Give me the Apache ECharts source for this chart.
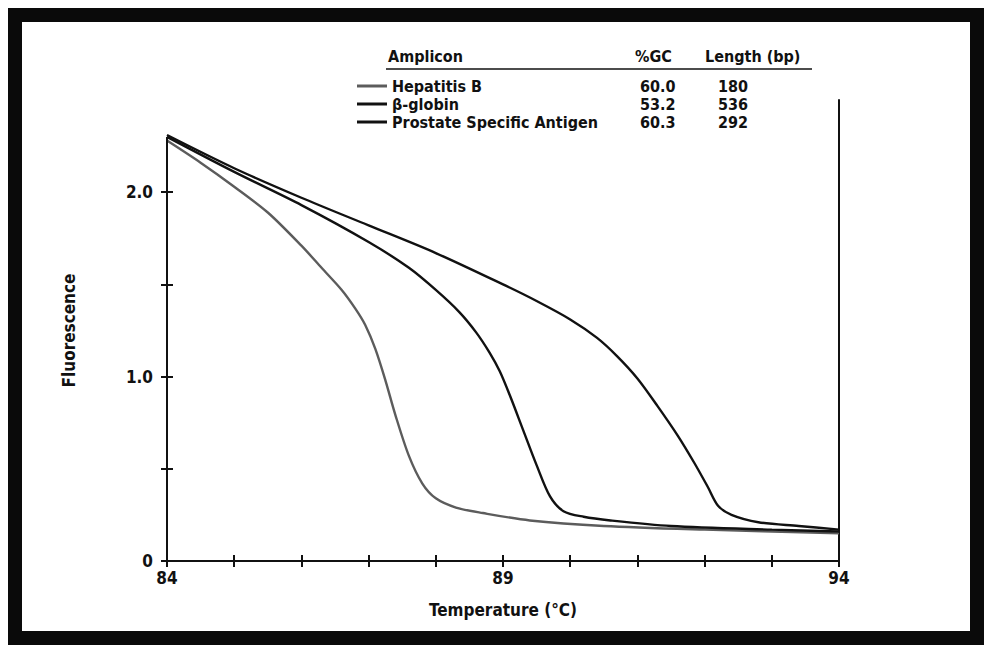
<!DOCTYPE html>
<html>
<head>
<meta charset="utf-8">
<script src="https://cdn.jsdelivr.net/npm/echarts@6/dist/echarts.min.js"></script>
<style>
  html, body { margin: 0; padding: 0; background: #ffffff; }
  #chart { width: 990px; height: 651px; }
</style>
</head>
<body>
<div id="chart"></div>
<script>
// ---- Data ----
const seriesNames = ['Hepatitis B', 'β-globin', 'Prostate Specific Antigen'];
const gcValues = ['60.0', '53.2', '60.3'];
const lengthValues = ['180', '536', '292'];

const hepTemps  = [84.0, 84.5, 85.0, 85.5, 86.0, 86.3, 86.6, 86.8, 86.95, 87.1, 87.25, 87.4, 87.6, 87.8, 88.0, 88.3, 88.7, 89.4, 90.5, 92.0, 94.0];
const hepValues = [2.28, 2.16, 2.03, 1.89, 1.71, 1.59, 1.47, 1.37, 1.28, 1.15, 0.98, 0.79, 0.57, 0.42, 0.34, 0.29, 0.26, 0.22, 0.19, 0.17, 0.15];

const gloTemps  = [84.0, 85.0, 86.0, 87.0, 87.6, 88.0, 88.35, 88.6, 88.8, 88.95, 89.1, 89.3, 89.5, 89.7, 89.9, 90.2, 90.6, 91.5, 93.0, 94.0];
const gloValues = [2.30, 2.11, 1.93, 1.73, 1.59, 1.47, 1.35, 1.24, 1.13, 1.03, 0.90, 0.71, 0.52, 0.35, 0.27, 0.24, 0.22, 0.19, 0.17, 0.16];

const psaTemps  = [84.0, 85.0, 86.0, 87.0, 88.0, 89.0, 89.5, 90.0, 90.4, 90.7, 91.0, 91.3, 91.6, 91.85, 92.05, 92.2, 92.4, 92.8, 93.4, 94.0];
const psaValues = [2.31, 2.13, 1.97, 1.82, 1.67, 1.50, 1.41, 1.31, 1.21, 1.11, 0.99, 0.84, 0.68, 0.53, 0.40, 0.30, 0.25, 0.21, 0.19, 0.17];

const xTickLabels = [84, 89, 94];
const yTickValues = [0, 0.5, 1.0, 1.5, 2.0];
const yTickLabels = [0, 1.0, 2.0];

const FONT = "'Liberation Sans Narrow', 'DejaVu Sans Condensed', 'Liberation Sans', sans-serif";
const INK = '#111111';
const colors = ['#5c5c5c', '#111111', '#111111'];

function pairs(t, v) { return t.map((x, i) => [x, v[i]]); }
const seriesData = [pairs(hepTemps, hepValues), pairs(gloTemps, gloValues), pairs(psaTemps, psaValues)];

const chart = echarts.init(document.getElementById('chart'), null, { renderer: 'svg' });

const series = seriesNames.map((name, i) => {
  const s = {
    name: name,
    type: 'line',
    data: seriesData[i],
    smooth: 0.3,
    showSymbol: false,
    symbol: 'none',
    lineStyle: { color: colors[i], width: 2.4 },
    itemStyle: { color: colors[i] },
    silent: true,
    z: 3
  };
  if (i === 0) {
    s.markLine = {
      silent: true,
      symbol: 'none',
      label: { show: false },
      lineStyle: { color: INK, width: 2, type: 'solid' },
      data: [[{ coord: [84, 0] }, { coord: [84, 2.3] }]]
    };
  }
  return s;
});

const legendRich = {
  n: { width: 248, fontFamily: FONT, fontWeight: 'bold', fontSize: 16, color: INK, lineHeight: 16 },
  g: { width: 78, fontFamily: FONT, fontWeight: 'bold', fontSize: 16, color: INK, lineHeight: 16 },
  l: { fontFamily: FONT, fontWeight: 'bold', fontSize: 16, color: INK, lineHeight: 16 }
};

const option = {
  backgroundColor: '#ffffff',
  animation: false,
  grid: { left: 167, right: 151, top: 100, bottom: 90, containLabel: false },
  xAxis: [
    {
      type: 'value', position: 'bottom', min: 84, max: 94, interval: 1,
      name: 'Temperature (°C)', nameLocation: 'middle', nameGap: 40,
      nameTextStyle: { fontFamily: FONT, fontWeight: 'bold', fontSize: 17, color: INK },
      axisLine: { show: true, onZero: false, lineStyle: { color: INK, width: 2 } },
      axisTick: { show: true, inside: false, length: 6, lineStyle: { color: INK, width: 2 } },
      axisLabel: {
        show: true, customValues: xTickLabels, margin: 8,
        fontFamily: FONT, fontWeight: 'bold', fontSize: 17, color: INK
      },
      splitLine: { show: false }
    },
    {
      type: 'value', position: 'bottom', offset: 0, min: 84, max: 94, interval: 1,
      axisLine: { show: false },
      axisTick: { show: true, inside: true, length: 6, lineStyle: { color: INK, width: 2 } },
      axisLabel: { show: false },
      splitLine: { show: false }
    }
  ],
  yAxis: [
    {
      type: 'value', position: 'left', min: 0, max: 2.5, interval: 0.5,
      name: 'Fluorescence', nameLocation: 'middle', nameGap: 90, nameRotate: 90,
      nameTextStyle: { fontFamily: FONT, fontWeight: 'bold', fontSize: 17, color: INK },
      axisLine: { show: false },
      axisTick: { show: true, inside: false, length: 6, customValues: yTickValues, lineStyle: { color: INK, width: 2 } },
      axisLabel: {
        show: true, customValues: yTickLabels, margin: 14,
        fontFamily: FONT, fontWeight: 'bold', fontSize: 17, color: INK,
        formatter: v => (v === 0 ? '0' : v.toFixed(1))
      },
      splitLine: { show: false }
    },
    {
      type: 'value', position: 'left', offset: 0, min: 0, max: 2.5, interval: 0.5,
      axisLine: { show: false },
      axisTick: { show: true, inside: true, length: 6, customValues: yTickValues, lineStyle: { color: INK, width: 2 } },
      axisLabel: { show: false },
      splitLine: { show: false }
    },
    {
      type: 'value', position: 'right', offset: 0, min: 0, max: 2.5, interval: 0.5,
      axisLine: { show: true, lineStyle: { color: INK, width: 2 } },
      axisTick: { show: false },
      axisLabel: { show: false },
      splitLine: { show: false }
    }
  ],
  legend: {
    orient: 'vertical',
    left: 352,
    top: 73,
    icon: 'rect',
    itemWidth: 30,
    itemHeight: 3,
    itemGap: 2,
    selectedMode: false,
    data: seriesNames,
    textStyle: { fontFamily: FONT, fontWeight: 'bold', fontSize: 16, color: INK, rich: legendRich },
    formatter: name => {
      const i = seriesNames.indexOf(name);
      return '{n|' + name + '}{g|' + gcValues[i] + '}{l|' + lengthValues[i] + '}';
    }
  },
  graphic: [
    {
      type: 'rect', silent: true, z: 100,
      shape: { x: 15, y: 15, width: 962, height: 623 },
      style: { fill: 'none', stroke: '#0a0a0a', lineWidth: 14 }
    },
    {
      type: 'text', silent: true, left: 388, top: 48,
      style: { text: 'Amplicon', fontFamily: FONT, fontWeight: 'bold', fontSize: 16, fill: INK }
    },
    {
      type: 'text', silent: true, left: 635, top: 48,
      style: { text: '%GC', fontFamily: FONT, fontWeight: 'bold', fontSize: 16, fill: INK }
    },
    {
      type: 'text', silent: true, left: 705, top: 48,
      style: { text: 'Length (bp)', fontFamily: FONT, fontWeight: 'bold', fontSize: 16, fill: INK }
    },
    {
      type: 'line', silent: true,
      shape: { x1: 386, y1: 69, x2: 812, y2: 69 },
      style: { stroke: INK, lineWidth: 1.5 }
    }
  ],
  series: series
};

chart.setOption(option);
</script>
</body>
</html>
